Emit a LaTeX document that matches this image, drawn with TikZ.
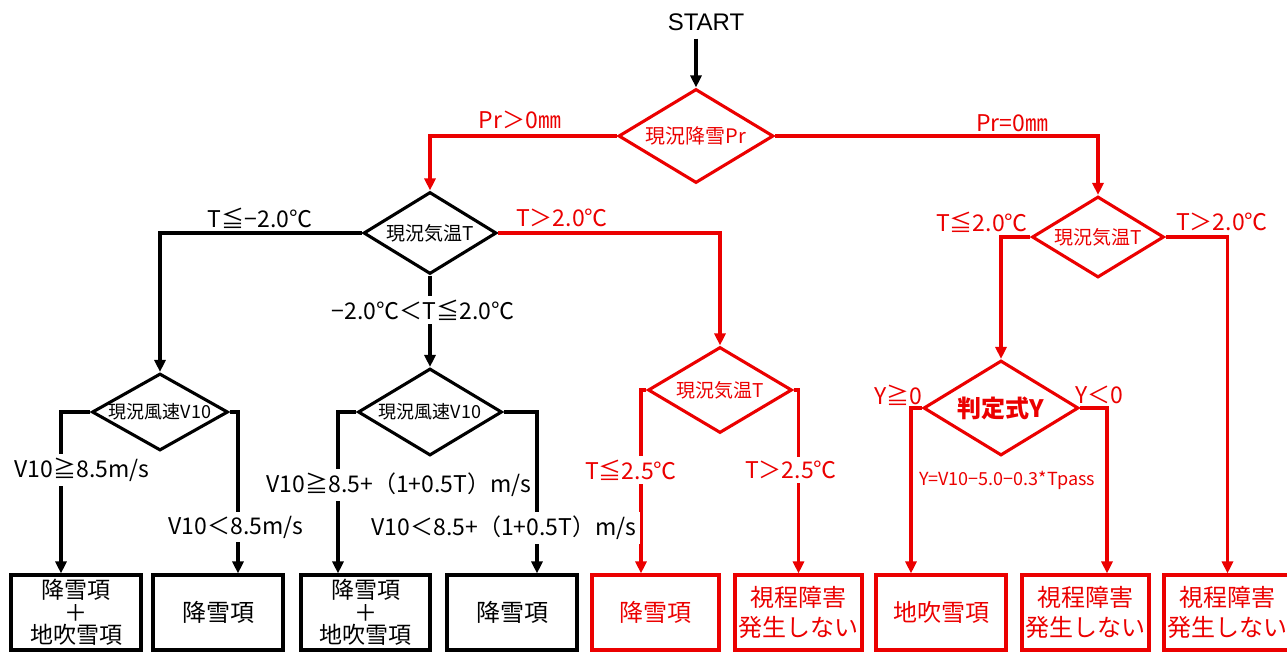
\documentclass[tikz,border=0pt]{standalone}
\usepackage{fontspec}
\setmainfont{Noto Sans CJK JP}
\newfontfamily\startfont{Liberation Sans}
\usetikzlibrary{shapes.geometric,arrows.meta}
\definecolor{mred}{RGB}{235,0,0}
\begin{document}
\begin{tikzpicture}[x=1pt,y=-1pt,
  line width=3.1pt,
  dia/.style={diamond, draw, line width=3.1pt, inner sep=0pt, font=\fontsize{19}{21}\selectfont},
  box/.style={draw, rectangle, line width=3.1pt, minimum height=75pt, inner sep=0pt, align=center},
  box3/.style={box, font=\fontsize{23}{22.5}\selectfont},
  box2/.style={box, font=\fontsize{24}{30}\selectfont},
  box1/.style={box, font=\fontsize{24}{26}\selectfont},
  lbl/.style={font=\fontsize{23}{25}\selectfont, inner sep=1pt},
  gap/.style={lbl, fill=white, inner sep=4pt},
  arr/.style={-{Triangle[length=12pt,width=11pt]}},
  redc/.style={draw=mred, text=mred},
]
\useasboundingbox (0,0) rectangle (1287,653);

% start
\node[font=\startfont\fontsize{24}{28}\selectfont, minimum height=30pt, inner sep=0pt] (start) at (706,22) {START};

% diamonds
\node[dia, redc, minimum width=155pt, minimum height=94pt, font=\fontsize{20}{22}\selectfont] (d1) at (696,136) {\makebox[0pt]{現況降雪Pr}};
\node[dia, minimum width=133pt, minimum height=82pt] (d2) at (430,233) {\makebox[0pt]{現況気温T}};
\node[dia, redc, minimum width=132pt, minimum height=81pt] (d3) at (1098,237) {\makebox[0pt]{現況気温T}};
\node[dia, minimum width=136pt, minimum height=77pt, font=\fontsize{18}{20}\selectfont] (d4) at (160,412) {\makebox[0pt]{現況風速V10}};
\node[dia, minimum width=144pt, minimum height=87pt, font=\fontsize{18}{20}\selectfont] (d5) at (430,412) {\makebox[0pt]{現況風速V10}};
\node[dia, redc, minimum width=144pt, minimum height=86pt] (d6) at (720,390) {\makebox[0pt]{現況気温T}};
\node[dia, redc, minimum width=155pt, minimum height=95pt, font=\bfseries\fontsize{24}{26}\selectfont] (d7) at (1001,408) {\makebox[0pt]{判定式Y}};

% boxes
\node[box3, minimum width=130pt] (b1) at (76,612.5) {降雪項\\＋\\地吹雪項};
\node[box1, minimum width=130pt] (b2) at (218,612.5) {降雪項};
\node[box3, minimum width=129pt] (b3) at (365.5,612.5) {降雪項\\＋\\地吹雪項};
\node[box1, minimum width=130pt] (b4) at (512,612.5) {降雪項};
\node[box1, redc, minimum width=127pt] (b5) at (655.5,612.5) {降雪項};
\node[box2, redc, minimum width=127pt] (b6) at (798.5,612.5) {視程障害\\発生しない};
\node[box1, redc, minimum width=130pt] (b7) at (941,612.5) {地吹雪項};
\node[box2, redc, minimum width=127pt] (b8) at (1085.5,612.5) {視程障害\\発生しない};
\node[box2, redc, minimum width=127pt] (b9) at (1227.5,612.5) {視程障害\\発生しない};

% connectors
\draw[arr] (start.south -| d1.north) -- (d1.north);
\draw[arr, mred] (d1.west) -| (d2.north);
\draw[arr, mred] (d1.east) -| (d3.north);
\draw[arr] (d2.west) -| (d4.north);
\draw[arr] (d2.south) -- (d5.north);
\draw[arr, mred] (d2.east) -| (d6.north);
\draw[arr] (d4.west) -| ([xshift=-15pt]b1.north);
\draw[arr] (d4.east) -| ([xshift=20pt]b2.north);
\draw[arr] (d5.west) -| ([xshift=-27.5pt]b3.north);
\draw[arr] (d5.east) -| ([xshift=25pt]b4.north);
\draw[arr, mred] (d6.west) -| ([xshift=-14.5pt]b5.north);
\draw[arr, mred] (d6.east) -| (b6.north);
\draw[arr, mred] (d3.west) -| (d7.north);
\draw[arr, mred] (d3.east) -| (b9.north);
\draw[arr, mred] (d7.west) -| ([xshift=-30pt]b7.north);
\draw[arr, mred] (d7.east) -| ([xshift=21.5pt]b8.north);

% labels
\node[lbl, text=mred] (l1) at (520,120) {Pr＞0㎜};
\node[lbl, text=mred] (l2) at (1012,123) {Pr=0㎜};
\node[lbl] (l3) at (260,218) {T≦−2.0℃};
\node[gap] (l4) at (423,310) {−2.0℃＜T≦2.0℃};
\node[lbl, text=mred] (l5) at (562,218) {T＞2.0℃};
\node[lbl, text=mred] (l6) at (982,222) {T≦2.0℃};
\node[lbl, text=mred] (l7) at (1222,222) {T＞2.0℃};
\node[gap] (l8) at (82,470) {V10≧8.5m/s};
\node[gap] (l9) at (236,527) {V10＜8.5m/s};
\node[gap] (l10) at (399,485) {V10≧8.5+（1+0.5T）m/s};
\node[gap] (l11) at (504,528) {V10＜8.5+（1+0.5T）m/s};
\node[gap, text=mred] (l12) at (631,470) {T≦2.5℃};
\node[gap, text=mred] (l13) at (791,470) {T＞2.5℃};
\node[lbl, text=mred] (l14) at (898,395) {Y≧0};
\node[lbl, text=mred] (l15) at (1099,395) {Y＜0};
\node[lbl, text=mred, font=\fontsize{18}{20}\selectfont] (l16) at (1007,480) {Y=V10−5.0−0.3*Tpass};
\end{tikzpicture}
\end{document}
